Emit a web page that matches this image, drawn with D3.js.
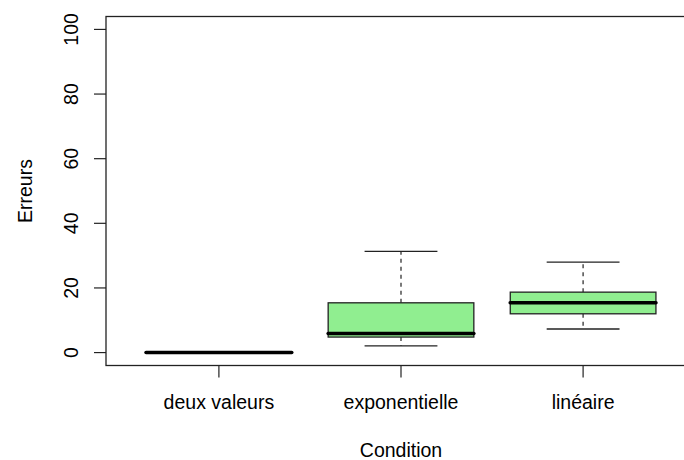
<html>
<head>
	<title>Boxplot Erreurs</title>
	<meta charset="utf-8">
	<script src="https://d3js.org/d3.v7.min.js"></script>
	<style>
		body { margin: 0; background: #fff; }
		text { font-family: "Liberation Sans", Arial, Helvetica, sans-serif; fill: #000; }
	</style>
</head>
<body>
	<svg id="chart" width="684" height="460"></svg>

	<script type="text/javascript">
		// data
		var categories = ["deux valeurs", "exponentielle", "linéaire"]
		var lowerWhisker = [0, 2.1, 7.3]
		var q1 = [0, 4.8, 12.0]
		var median = [0, 5.9, 15.4]
		var q3 = [0, 15.4, 18.7]
		var upperWhisker = [0, 31.3, 28.0]
		var yTicks = [0, 20, 40, 60, 80, 100]

		var boxes = categories.map((c, i) => ({
			name: c, pos: i + 1,
			lo: lowerWhisker[i], q1: q1[i], med: median[i], q3: q3[i], hi: upperWhisker[i]
		}))

		var svg = d3.select("#chart")
		// plot region (right edge falls outside the window, as in the reference)
		var plotLeft = 106, plotRight = 696, plotTop = 16.5, plotBottom = 365.5

		// R style: range padded by 4%
		var x = d3.scaleLinear().domain([0.38, 3.62]).range([plotLeft, plotRight])
		var y = d3.scaleLinear().domain([-4, 104]).range([plotBottom, plotTop])

		var fontSize = 19.5

		//boxes
		var g = svg.selectAll("g.box")
			.data(boxes)
			.enter()
			.append("g")
			.attr("class", "box")

		// whiskers (dashed)
		g.append("line")
			.attr("x1", d => x(d.pos)).attr("x2", d => x(d.pos))
			.attr("y1", d => y(d.q3)).attr("y2", d => y(d.hi))
			.attr("stroke", "#333").attr("stroke-width", 1.3)
			.attr("stroke-dasharray", "4,4")
		g.append("line")
			.attr("x1", d => x(d.pos)).attr("x2", d => x(d.pos))
			.attr("y1", d => y(d.q1)).attr("y2", d => y(d.lo))
			.attr("stroke", "#333").attr("stroke-width", 1.3)
			.attr("stroke-dasharray", "4,4")
		// caps
		g.append("line")
			.attr("x1", d => x(d.pos - 0.2)).attr("x2", d => x(d.pos + 0.2))
			.attr("y1", d => y(d.hi)).attr("y2", d => y(d.hi))
			.attr("stroke", "#222").attr("stroke-width", 1.3)
		g.append("line")
			.attr("x1", d => x(d.pos - 0.2)).attr("x2", d => x(d.pos + 0.2))
			.attr("y1", d => y(d.lo)).attr("y2", d => y(d.lo))
			.attr("stroke", "#222").attr("stroke-width", 1.3)
		// box
		g.append("rect")
			.attr("x", d => x(d.pos - 0.4))
			.attr("width", d => x(d.pos + 0.4) - x(d.pos - 0.4))
			.attr("y", d => y(d.q3))
			.attr("height", d => y(d.q1) - y(d.q3))
			.attr("fill", "#90EE90")
			.attr("stroke", "#222").attr("stroke-width", 1.3)
		// median
		g.append("line")
			.attr("x1", d => x(d.pos - 0.4)).attr("x2", d => x(d.pos + 0.4))
			.attr("y1", d => y(d.med)).attr("y2", d => y(d.med))
			.attr("stroke", "#000").attr("stroke-width", 3.6)
			.attr("stroke-linecap", "round")

		// y axis
		svg.selectAll("line.ytick")
			.data(yTicks)
			.enter()
			.append("line")
			.attr("class", "ytick")
			.attr("x1", plotLeft - 12).attr("x2", plotLeft)
			.attr("y1", d => y(d)).attr("y2", d => y(d))
			.attr("stroke", "#222").attr("stroke-width", 1.2)
		svg.selectAll("text.ylab")
			.data(yTicks)
			.enter()
			.append("text")
			.attr("class", "ylab")
			.attr("transform", d => "translate(78," + y(d) + ") rotate(-90)")
			.attr("text-anchor", "middle")
			.attr("font-size", fontSize)
			.text(d => d)

		// x axis
		svg.selectAll("line.xtick")
			.data(boxes)
			.enter()
			.append("line")
			.attr("class", "xtick")
			.attr("x1", d => x(d.pos)).attr("x2", d => x(d.pos))
			.attr("y1", plotBottom).attr("y2", plotBottom + 12)
			.attr("stroke", "#222").attr("stroke-width", 1.2)
		svg.selectAll("text.xlab")
			.data(boxes)
			.enter()
			.append("text")
			.attr("class", "xlab")
			.attr("x", d => x(d.pos))
			.attr("y", 409)
			.attr("text-anchor", "middle")
			.attr("font-size", fontSize)
			.text(d => d.name)

		// frame
		svg.append("rect")
			.attr("x", plotLeft).attr("y", plotTop)
			.attr("width", plotRight - plotLeft).attr("height", plotBottom - plotTop)
			.attr("fill", "none")
			.attr("stroke", "#222").attr("stroke-width", 1.3)

		// axis titles
		svg.append("text")
			.attr("x", x(2)).attr("y", 456.5)
			.attr("text-anchor", "middle")
			.attr("font-size", fontSize)
			.text("Condition")
		svg.append("text")
			.attr("transform", "translate(31.5," + y(50) + ") rotate(-90)")
			.attr("text-anchor", "middle")
			.attr("font-size", fontSize)
			.text("Erreurs")
	</script>
</body>
</html>
